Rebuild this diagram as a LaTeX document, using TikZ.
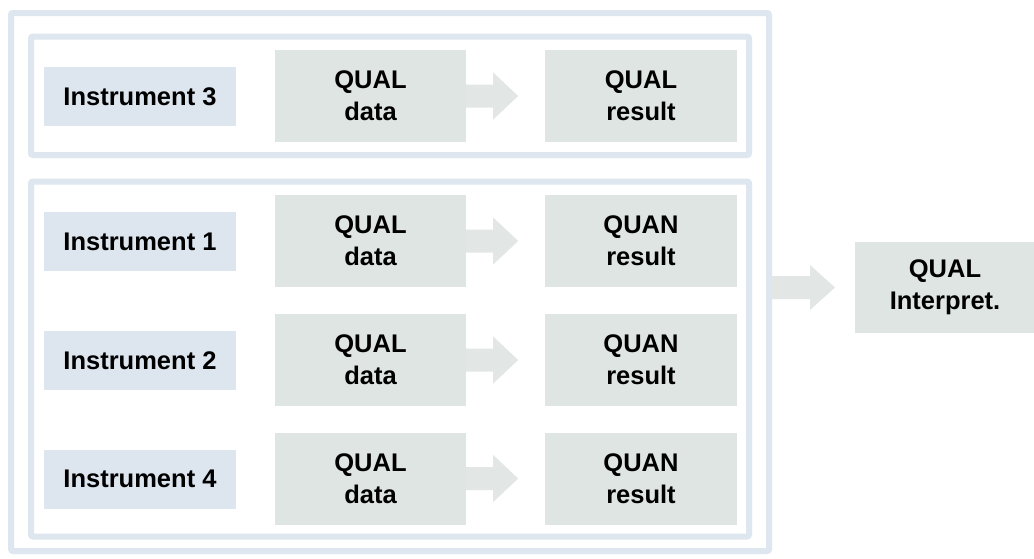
\documentclass[tikz,border=0pt]{standalone}
\usepackage{fontspec}
\setmainfont{Liberation Sans}
\usetikzlibrary{calc}
\definecolor{framecol}{HTML}{DEE6EF}
\definecolor{instcol}{HTML}{DDE5EE}
\definecolor{boxcol}{HTML}{DFE5E3}
\definecolor{arrowcol}{HTML}{E2E7E6}
\tikzset{
  x=1pt, y=-1pt,
  frame/.style={draw=framecol, line width=6pt, rounded corners=2pt, inner sep=0pt},
  inst/.style={fill=instcol, minimum width=192pt, minimum height=59pt, inner sep=0pt,
    font=\fontsize{25.5}{32}\selectfont\bfseries},
  databox/.style={fill=boxcol, minimum width=191pt, minimum height=92pt, inner sep=0pt,
    align=center, font=\fontsize{25.5}{32}\selectfont\bfseries},
  resbox/.style={databox, minimum width=192pt},
}
% fat block arrow: #1 start coordinate, shaft to #2 head base, tip at #3
\newcommand{\blockarrow}[4]{%
  \fill[arrowcol] ($(#1)+(0,-11.5)$) -- ($(#2)+(0,-11.5)$) -- ($(#2)+(0,-#4)$)
    -- (#3) -- ($(#2)+(0,#4)$) -- ($(#2)+(0,11.5)$) -- ($(#1)+(0,11.5)$) -- cycle;}
\begin{document}
\begin{tikzpicture}
\useasboundingbox (0,0) rectangle (1034,558);
\fill[white] (0,0) rectangle (1034,558);

% frames
\node[frame, minimum width=758pt, minimum height=538pt] (outer) at (390,282) {};
\node[frame, minimum width=718pt, minimum height=118.5pt] (top) at (390,95.75) {};
\node[frame, minimum width=718pt, minimum height=355pt] (bottom) at (390,359) {};

% rows
\foreach \n/\lab/\y/\res in {r3/Instrument 3/96/QUAL, r1/Instrument 1/241/QUAN,
                             r2/Instrument 2/360/QUAN, r4/Instrument 4/478.5/QUAN} {
  \node[inst] (i\n) at (140,\y+0.5) {\lab};
  \node[databox] (d\n) at (370.5,\y) {QUAL\\data};
  \node[resbox] (s\n) at (641,\y) {\res\\result};
  \coordinate (b\n) at ($(d\n.east)+(27,0)$);
  \coordinate (t\n) at ($(d\n.east)+(52,0)$);
  \blockarrow{d\n.east}{b\n}{t\n}{23.5}
}

% interpretation
\node[databox, minimum width=180pt, minimum height=91pt] (interp) at (945,287.5) {QUAL\\Interpret.};
\coordinate (fs) at (outer.east |- interp.west);
\coordinate (fb) at ($(fs)+(38,0)$);
\coordinate (ft) at ($(fs)+(63,0)$);
\blockarrow{fs}{fb}{ft}{22.5}
\end{tikzpicture}
\end{document}
